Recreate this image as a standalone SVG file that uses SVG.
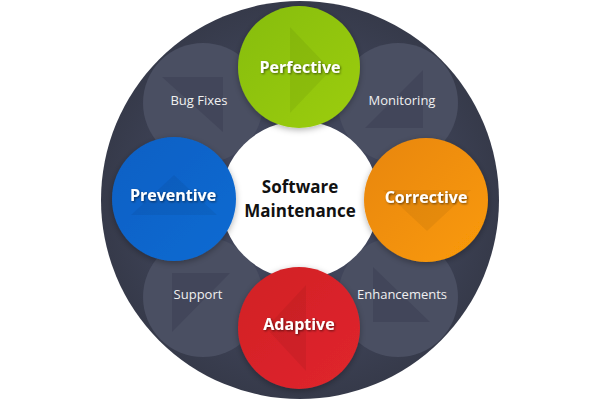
<svg xmlns="http://www.w3.org/2000/svg" width="600" height="400" viewBox="0 0 600 400">
  <defs>
    <radialGradient id="bg" cx="0.5" cy="0.5" r="0.5">
      <stop offset="0.6" stop-color="#40455a"/>
      <stop offset="1" stop-color="#363a4a"/>
    </radialGradient>
    <linearGradient id="gGreen" x1="0" y1="0" x2="1" y2="1">
      <stop offset="0" stop-color="#86bd12"/>
      <stop offset="1" stop-color="#9ccd0a"/>
    </linearGradient>
    <linearGradient id="gOrange" x1="0" y1="0" x2="1" y2="1">
      <stop offset="0" stop-color="#e8860f"/>
      <stop offset="1" stop-color="#fa9a05"/>
    </linearGradient>
    <linearGradient id="gRed" x1="0" y1="0" x2="1" y2="1">
      <stop offset="0" stop-color="#d11f25"/>
      <stop offset="1" stop-color="#e0262d"/>
    </linearGradient>
    <linearGradient id="gBlue" x1="0" y1="0" x2="1" y2="1">
      <stop offset="0" stop-color="#0a60c4"/>
      <stop offset="1" stop-color="#0b6ad2"/>
    </linearGradient>
    <filter id="tshadow" x="-20%" y="-40%" width="140%" height="180%">
      <feDropShadow dx="1" dy="1" stdDeviation="0.8" flood-color="#000" flood-opacity="0.55"/>
    </filter>
    <filter id="cshadow" x="-20%" y="-20%" width="140%" height="140%">
      <feDropShadow dx="0" dy="2" stdDeviation="3" flood-color="#000" flood-opacity="0.3"/>
    </filter>
  </defs>
  <style>
    .sub { fill: #4a4f62; }
    .subtri { fill: #42465a; }
    .tri { fill: #000; fill-opacity: 0.055; }
    .lbl { font-family: "Open Sans", "DejaVu Sans", sans-serif; font-weight: bold; font-size: 16px; fill: #ffffff; text-anchor: middle; }
    .sublbl { font-family: "Open Sans", "DejaVu Sans", sans-serif; font-size: 13px; fill: #f0f0f0; text-anchor: middle; }
    .center { font-family: "Open Sans", "DejaVu Sans", sans-serif; font-weight: bold; font-size: 17px; fill: #111111; text-anchor: middle; }
  </style>

  <rect width="600" height="400" fill="#ffffff"/>
  <circle cx="300" cy="200" r="199" fill="url(#bg)"/>

  <g id="bugfixes">
    <circle class="sub" cx="203" cy="103" r="60"/>
    <polygon class="subtri" points="162,77 223,77 223,132"/>
    <text class="sublbl" x="199" y="105">Bug Fixes</text>
  </g>
  <g id="monitoring">
    <circle class="sub" cx="398" cy="103" r="60"/>
    <polygon class="subtri" points="365,128 423,128 423,70"/>
    <text class="sublbl" x="402" y="105">Monitoring</text>
  </g>
  <g id="support">
    <circle class="sub" cx="203" cy="297" r="60"/>
    <polygon class="subtri" points="172,273 230,273 172,332"/>
    <text class="sublbl" x="198" y="299">Support</text>
  </g>
  <g id="enhancements">
    <circle class="sub" cx="398" cy="297" r="60"/>
    <polygon class="subtri" points="373,267 373,322 430,322"/>
    <text class="sublbl" x="402" y="299">Enhancements</text>
  </g>

  <g id="center">
    <circle cx="300" cy="200" r="79" fill="#ffffff"/>
    <text class="center" x="300" y="193">Software</text>
    <text class="center" x="300" y="217">Maintenance</text>
  </g>

  <g id="perfective">
    <circle cx="299" cy="67" r="61" fill="url(#gGreen)" filter="url(#cshadow)"/>
    <polygon class="tri" points="290,27 290,113 331,70"/>
    <text class="lbl" x="300" y="73" filter="url(#tshadow)">Perfective</text>
  </g>
  <g id="corrective">
    <circle cx="426" cy="200" r="62" fill="url(#gOrange)" filter="url(#cshadow)"/>
    <polygon class="tri" points="383,190 471,190 427,231"/>
    <text class="lbl" x="426" y="203" filter="url(#tshadow)">Corrective</text>
  </g>
  <g id="adaptive">
    <circle cx="299" cy="328" r="61" fill="url(#gRed)" filter="url(#cshadow)"/>
    <polygon class="tri" points="306,285 306,371 266,328"/>
    <text class="lbl" x="299" y="330" filter="url(#tshadow)">Adaptive</text>
  </g>
  <g id="preventive">
    <circle cx="174" cy="199" r="62" fill="url(#gBlue)" filter="url(#cshadow)"/>
    <polygon class="tri" points="131,215 217,215 174,175"/>
    <text class="lbl" x="173" y="201" filter="url(#tshadow)">Preventive</text>
  </g>

  <g id="connectors"></g>
</svg>
